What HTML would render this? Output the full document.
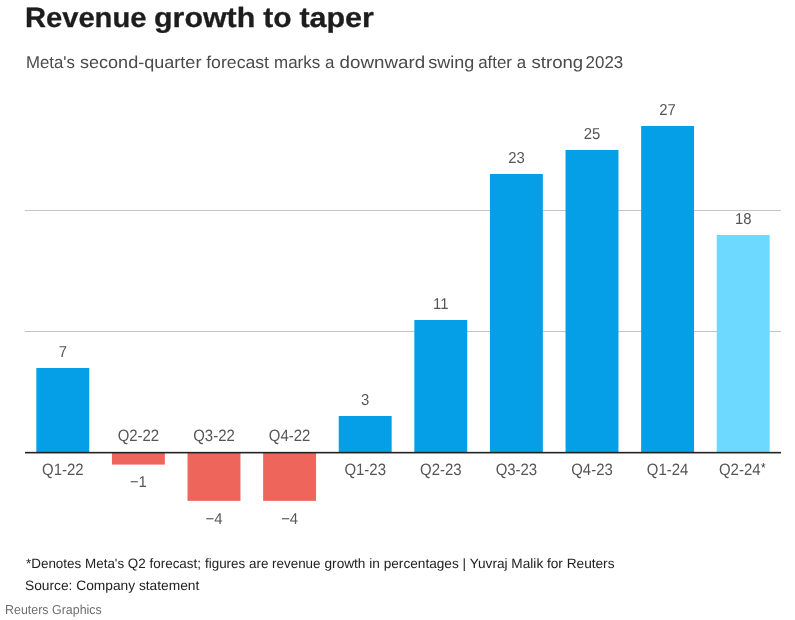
<!DOCTYPE html>
<html lang="en"><head><meta charset="utf-8"><title>Revenue growth to taper</title>
<style>
html,body{margin:0;padding:0;background:#fff;}
body{width:795px;height:620px;overflow:hidden;font-family:"Liberation Sans",sans-serif;}
svg{display:block;position:absolute;left:0;top:0;}
text{font-family:"Liberation Sans",sans-serif;text-rendering:geometricPrecision;}
.t{font-weight:700;font-size:28px;fill:#1d1d1d;stroke:#1d1d1d;stroke-width:0.3px;}
.s{font-size:17.2px;fill:#4a4a4a;}
.l{font-size:16.5px;fill:#555;text-anchor:middle;}
.v{font-size:15.8px;fill:#555;text-anchor:middle;}
.f{font-size:13.6px;fill:#222;}
.r{font-size:13px;fill:#6e6e6e;}
</style></head><body>
<svg width="795" height="620" viewBox="0 0 795 620">
<rect width="795" height="620" fill="#fff"/>
<text class="t" y="27.3"><tspan x="24.92" textLength="121.53" lengthAdjust="spacingAndGlyphs">Revenue</tspan> <tspan x="154.02" textLength="101.21" lengthAdjust="spacingAndGlyphs">growth</tspan> <tspan x="263.20" textLength="28.34" lengthAdjust="spacingAndGlyphs">to</tspan> <tspan x="299.40" textLength="74.51" lengthAdjust="spacingAndGlyphs">taper</tspan></text>
<text class="s" y="68.3"><tspan x="26.02" textLength="48.97" lengthAdjust="spacingAndGlyphs">Meta's</tspan> <tspan x="80.00" textLength="121.39" lengthAdjust="spacingAndGlyphs">second-quarter</tspan> <tspan x="206.20" textLength="62.84" lengthAdjust="spacingAndGlyphs">forecast</tspan> <tspan x="274.01" textLength="60.31" lengthAdjust="spacingAndGlyphs">marks a</tspan> <tspan x="339.60" textLength="85.47" lengthAdjust="spacingAndGlyphs">downward</tspan> <tspan x="428.30" textLength="46.00" lengthAdjust="spacingAndGlyphs">swing</tspan> <tspan x="478.22" textLength="47.82" lengthAdjust="spacingAndGlyphs">after a</tspan> <tspan x="531.60" textLength="51.54" lengthAdjust="spacingAndGlyphs">strong</tspan> <tspan x="585.62" textLength="37.63" lengthAdjust="spacingAndGlyphs">2023</tspan></text>
<g stroke="#c4c4c4" stroke-width="1">
<line x1="25" x2="781" y1="210.5" y2="210.5"/>
<line x1="25" x2="781" y1="331.5" y2="331.5"/>
</g>
<rect x="36.34" y="368.00" width="52.92" height="84.50" fill="#049fe6"/>
<text class="v" transform="translate(62.80 356.5) scale(0.94 1)">7</text>
<text class="l" transform="translate(62.80 475.0) scale(0.906 1)">Q1-22</text>
<rect x="111.94" y="452.50" width="52.92" height="12.09" fill="#ee665b"/>
<text class="v" transform="translate(138.40 487.3) scale(0.94 1)">−1</text>
<text class="l" transform="translate(138.40 440.9) scale(0.906 1)">Q2-22</text>
<rect x="187.54" y="452.50" width="52.92" height="48.36" fill="#ee665b"/>
<text class="v" transform="translate(214.00 523.6) scale(0.94 1)">−4</text>
<text class="l" transform="translate(214.00 440.9) scale(0.906 1)">Q3-22</text>
<rect x="263.14" y="452.50" width="52.92" height="48.36" fill="#ee665b"/>
<text class="v" transform="translate(289.60 523.6) scale(0.94 1)">−4</text>
<text class="l" transform="translate(289.60 440.9) scale(0.906 1)">Q4-22</text>
<rect x="338.74" y="416.00" width="52.92" height="36.50" fill="#049fe6"/>
<text class="v" transform="translate(365.20 404.5) scale(0.94 1)">3</text>
<text class="l" transform="translate(365.20 475.0) scale(0.906 1)">Q1-23</text>
<rect x="414.34" y="320.00" width="52.92" height="132.50" fill="#049fe6"/>
<text class="v" transform="translate(440.80 308.5) scale(0.94 1)">11</text>
<text class="l" transform="translate(440.80 475.0) scale(0.906 1)">Q2-23</text>
<rect x="489.94" y="174.00" width="52.92" height="278.50" fill="#049fe6"/>
<text class="v" transform="translate(516.40 162.5) scale(0.94 1)">23</text>
<text class="l" transform="translate(516.40 475.0) scale(0.906 1)">Q3-23</text>
<rect x="565.54" y="150.00" width="52.92" height="302.50" fill="#049fe6"/>
<text class="v" transform="translate(592.00 138.5) scale(0.94 1)">25</text>
<text class="l" transform="translate(592.00 475.0) scale(0.906 1)">Q4-23</text>
<rect x="641.14" y="126.00" width="52.92" height="326.50" fill="#049fe6"/>
<text class="v" transform="translate(667.60 114.5) scale(0.94 1)">27</text>
<text class="l" transform="translate(667.60 475.0) scale(0.906 1)">Q1-24</text>
<rect x="716.74" y="235.00" width="52.92" height="217.50" fill="#6dd9ff"/>
<text class="v" transform="translate(743.20 223.5) scale(0.94 1)">18</text>
<text class="l" transform="translate(742.30 475.0) scale(0.906 1)">Q2-24<tspan style="font-size:13px;fill:#333" dx="0.6" dy="-2.8">*</tspan></text>
<rect x="25" y="451.85" width="756" height="1.6" fill="#222"/>
<text class="f" y="568.4"><tspan x="26.00" textLength="175.03" lengthAdjust="spacingAndGlyphs">*Denotes Meta's Q2 forecast;</tspan> <tspan x="205.00" textLength="115.54" lengthAdjust="spacingAndGlyphs">figures are revenue</tspan> <tspan x="324.50" textLength="289.99" lengthAdjust="spacingAndGlyphs">growth in percentages | Yuvraj Malik for Reuters</tspan></text>
<text class="f" y="589.5"><tspan x="24.99" textLength="174.30" lengthAdjust="spacingAndGlyphs">Source: Company statement</tspan></text>
<text class="r" y="613.8"><tspan x="5.04" textLength="96.71" lengthAdjust="spacingAndGlyphs">Reuters Graphics</tspan></text>
</svg>
</body></html>
